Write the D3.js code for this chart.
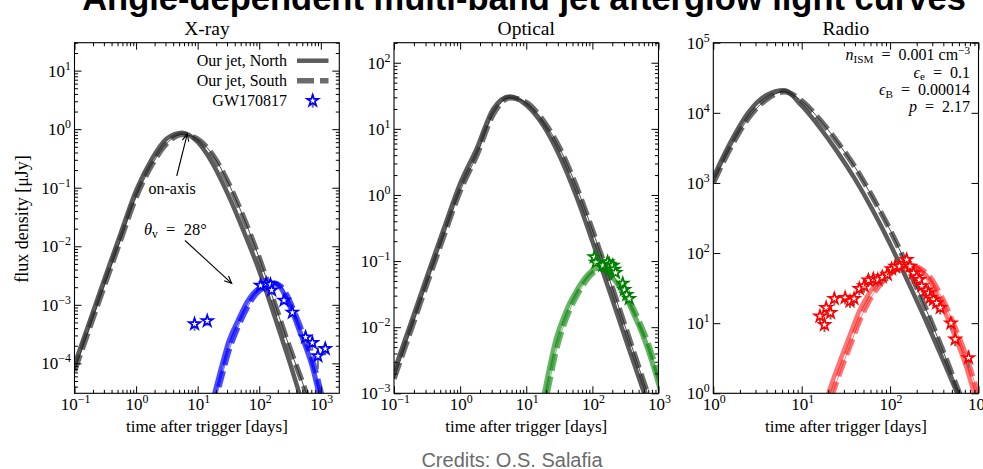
<!DOCTYPE html>
<html><head><meta charset="utf-8">
<script src="https://cdn.jsdelivr.net/npm/d3@7"></script>
<style>body{margin:0;background:#fff}svg{display:block}</style>
</head><body>
<svg id="c" width="983" height="469"></svg>
<script>
// ---------------- DATA ----------------
const bandNames = ["X-ray", "Optical", "Radio"];
const xTickVals = [[0.1, 1, 10, 100, 1000], [0.1, 1, 10, 100, 1000], [1, 10, 100, 1000]];
const yTickVals = [[1e-4, 1e-3, 1e-2, 1e-1, 1, 10], [1e-3, 1e-2, 1e-1, 1, 10, 100], [1, 10, 100, 1000, 1e4, 1e5]];
const legendLabels = ["Our jet, North", "Our jet, South", "GW170817"];

// X-ray (flux density, microJy; time, days)
const tOnX = [0.1, 0.178, 0.316, 0.562, 1, 1.78, 3.16, 5.62, 10, 17.8, 31.6, 56.2, 100, 178, 316, 562, 1000];
const xrayNorth = [9.55e-5, 5.37e-4, 3.02e-3, 1.66e-2, 8.91e-2, 0.302, 0.692, 0.871, 0.603, 0.251, 0.0741, 0.0178, 3.8e-3, 6.31e-4, 1.0e-4, 1.41e-5, 2e-6];
const xraySouth = [7.41e-5, 4.17e-4, 2.34e-3, 1.29e-2, 0.0692, 0.24, 0.575, 0.813, 0.676, 0.355, 0.12, 0.0302, 6.31e-3, 1.05e-3, 1.78e-4, 3.39e-5, 5e-6];
const tOffX = [17.8, 25.1, 31.6, 44.7, 63.1, 79.4, 100, 126, 178, 224, 282, 355, 447, 562, 708, 891, 1122];
const xrayOffNorth = [2.51e-5, 1.0e-4, 2.34e-4, 5.37e-4, 1.12e-3, 1.58e-3, 1.95e-3, 2.24e-3, 2.4e-3, 1.91e-3, 1.17e-3, 6.76e-4, 3.55e-4, 1.91e-4, 9.33e-5, 3.55e-5, 1.26e-5];
const xrayOffSouth = [1.62e-5, 6.46e-5, 1.55e-4, 4.07e-4, 8.71e-4, 1.32e-3, 1.74e-3, 2.04e-3, 2.29e-3, 2.09e-3, 1.45e-3, 8.51e-4, 4.68e-4, 2.45e-4, 1.26e-4, 5.37e-5, 1.95e-5];
const xrayObsT = [8.9, 14.3, 105, 130, 152, 159, 252, 345, 565, 727, 895, 1180];
const xrayObsF = [4.7e-4, 5.3e-4, 2.14e-3, 2.3e-3, 2.23e-3, 1.78e-3, 1.19e-3, 7.4e-4, 2.8e-4, 2.25e-4, 1.34e-4, 1.78e-4];
const xrayObsE = [1.1e-4, 9e-5, 2.5e-4, 3e-4, 3e-4, 3e-4, 1.8e-4, 1.2e-4, 7e-5, 6e-5, 5.5e-5, 4e-5];

// Optical
const tOnO = [0.1, 0.178, 0.316, 0.562, 1, 1.78, 3.16, 5.62, 10, 17.8, 31.6, 56.2, 100, 178, 316, 562, 1000];
const optNorth = [2.14e-3, 1.12e-2, 5.89e-2, 0.302, 1.48, 5.01, 20.0, 30.9, 22.9, 11.5, 3.98, 1.0, 0.2, 0.0372, 6.76e-3, 1.26e-3, 2.4e-4];
const optSouth = [1.66e-3, 8.71e-3, 0.0457, 0.234, 1.15, 3.98, 16.6, 29.5, 25.1, 13.5, 5.25, 1.41, 0.295, 0.0562, 0.01, 1.78e-3, 3.16e-4];
const tOff = [17.8, 22.4, 28.2, 35.5, 44.7, 56.2, 70.8, 89.1, 112, 141, 178, 224, 282, 355, 447, 562, 708, 891, 1122];
const optOffNorth = [7.94e-4, 2.51e-3, 6.76e-3, 1.32e-2, 2.29e-2, 3.47e-2, 5.01e-2, 6.61e-2, 7.76e-2, 7.59e-2, 6.31e-2, 4.9e-2, 3.39e-2, 2.24e-2, 1.35e-2, 7.94e-3, 4.17e-3, 2.0e-3, 8.91e-4];
const optOffSouth = [4.57e-4, 1.45e-3, 4.27e-3, 9.55e-3, 1.74e-2, 2.82e-2, 4.17e-2, 5.75e-2, 7.08e-2, 7.59e-2, 6.76e-2, 5.37e-2, 3.89e-2, 2.63e-2, 1.66e-2, 9.77e-3, 5.5e-3, 2.69e-3, 1.26e-3];
const optObsT = [107, 113, 144, 170, 181, 204, 215, 224, 288, 305, 331, 361];
const optObsF = [0.115, 0.095, 0.086, 0.097, 0.089, 0.086, 0.075, 0.067, 0.046, 0.037, 0.031, 0.027];
const optObsE = [0.012, 0.01, 0.009, 0.01, 0.009, 0.009, 0.008, 0.007, 0.006, 0.005, 0.005, 0.005];

// Radio
const tOnR = [1, 1.58, 2.51, 3.98, 6.31, 10, 15.8, 25.1, 39.8, 63.1, 100, 158, 251, 398, 631, 1000];
const radNorth = [1202, 3890, 10230, 17780, 20900, 12590, 6310, 2820, 1150, 417, 135, 39.8, 11.2, 2.95, 0.76, 0.2];
const radSouth = [1000, 3240, 8510, 15490, 19950, 14790, 8130, 3890, 1700, 631, 214, 63.1, 16.6, 3.98, 0.891, 0.22];
const radOffNorth = [0.631, 1.51, 3.31, 7.08, 14.8, 25.1, 38.0, 51.3, 63.1, 69.2, 66.1, 56.2, 39.8, 22.4, 11.7, 5.75, 2.63, 1.0, 0.355];
const radOffSouth = [0.417, 1.0, 2.29, 4.9, 10.5, 19.5, 30.9, 43.7, 56.2, 64.6, 66.1, 58.9, 45.7, 28.2, 15.5, 7.76, 3.63, 1.51, 0.55];
const radObsT = [16.1, 18.1, 18.9, 21.2, 23.4, 31.0, 35.2, 39.1, 44.9, 50.7, 56.8, 64.6, 72.6, 81.6, 93.0, 104, 114, 128, 145, 154, 168, 184, 200, 214, 228, 255, 272, 284, 310, 336, 369, 488, 545, 771];
const radObsF = [12.6, 9.5, 16.6, 14.1, 22.4, 23.0, 20.5, 22.4, 31.0, 33.9, 41.0, 42.7, 41.7, 45.7, 49.4, 59.2, 64.6, 64.6, 70.4, 80.6, 64.6, 52.0, 45.7, 41.7, 33.9, 29.5, 27.0, 23.0, 21.7, 19.4, 16.6, 10.0, 5.9, 3.2];
const radObsE = [2.5, 2.0, 3.3, 2.8, 4.5, 4.6, 4.1, 4.5, 6.2, 6.8, 8.2, 8.5, 8.3, 9.1, 9.9, 11.8, 12.9, 12.9, 14.1, 16.1, 12.9, 10.4, 9.1, 8.3, 6.8, 5.9, 5.4, 4.6, 4.3, 3.9, 3.3, 2.0, 1.2, 0.9];

// ---------------- LAYOUT ----------------
const SERIF = "'Liberation Serif','Times New Roman',serif";
const SANS = "'Liberation Sans',Arial,Helvetica,sans-serif";
const panels = [
  {x0: 74.5, x1: 339.3, xdom: [0.1, 1995], ydom: [3.08e-5, 30], yMinor: true, color: "#0000ff", op: 0.7,
   on: [tOnX, xrayNorth, xraySouth], off: [tOffX, xrayOffNorth, xrayOffSouth], obs: [xrayObsT, xrayObsF, xrayObsE]},
  {x0: 394, x1: 658.5, xdom: [0.1, 1000], ydom: [1e-3, 201], yMinor: true, color: "#008000", op: 0.6,
   on: [tOnO, optNorth, optSouth], off: [tOff, optOffNorth, optOffSouth], obs: [optObsT, optObsF, optObsE]},
  {x0: 713.3, x1: 978.5, xdom: [1, 1000], ydom: [1, 1e5], yMinor: false, color: "#ff0000", op: 0.55,
   on: [tOnR, radNorth, radSouth], off: [tOff, radOffNorth, radOffSouth], obs: [radObsT, radObsF, radObsE]}
];
const Y0 = 42.7, Y1 = 393.3;
const DASH = "17,6";

const svg = d3.select("#c");
svg.append("rect").attr("width", 983).attr("height", 469).attr("fill", "#fff");

function expText(sel, v, fs) {
  const e = Math.round(Math.log10(v));
  sel.text("10");
  sel.append("tspan").attr("dy", -7).attr("font-size", fs * 0.7).text(String(e).replace("-", "\u2212"));
}

const star = d3.symbol(d3.symbolStar, 40);
const EN = "\u2002";

panels.forEach((p, i) => {
  const x = d3.scaleLog().domain(p.xdom).range([p.x0, p.x1]);
  const y = d3.scaleLog().domain(p.ydom).range([Y1, Y0]);
  const g = svg.append("g");
  const clipId = "clip" + i;
  svg.append("clipPath").attr("id", clipId).append("rect")
    .attr("x", p.x0).attr("y", Y0).attr("width", p.x1 - p.x0).attr("height", Y1 - Y0);

  const line = d3.line().x(d => x(d[0])).y(d => y(d[1])).curve(d3.curveMonotoneX);
  const cg = g.append("g").attr("clip-path", `url(#${clipId})`);

  // on-axis
  const onN = p.on[0].map((t, k) => [t, p.on[1][k]]);
  const onS = p.on[0].map((t, k) => [t, p.on[2][k]]);
  cg.append("path").attr("d", line(onN)).attr("fill", "none").attr("stroke", "#333").attr("stroke-opacity", 0.8).attr("stroke-width", 4.5);
  cg.append("path").attr("d", line(onS)).attr("fill", "none").attr("stroke", "#333").attr("stroke-opacity", 0.72).attr("stroke-width", 5.5).attr("stroke-dasharray", DASH);
  cg.append("path").attr("d", line(onS)).attr("fill", "none").attr("stroke", "#1a1a1a").attr("stroke-opacity", 0.85).attr("stroke-width", 0.9);

  // off-axis
  const offN = p.off[0].map((t, k) => [t, p.off[1][k]]);
  const offS = p.off[0].map((t, k) => [t, p.off[2][k]]);
  cg.append("path").attr("d", line(offN)).attr("fill", "none").attr("stroke", p.color).attr("stroke-opacity", p.op).attr("stroke-width", 4.5);
  cg.append("path").attr("d", line(offS)).attr("fill", "none").attr("stroke", p.color).attr("stroke-opacity", p.op).attr("stroke-width", 5.5).attr("stroke-dasharray", DASH);
  cg.append("path").attr("d", line(offS)).attr("fill", "none").attr("stroke", p.color).attr("stroke-opacity", p.op).attr("stroke-width", 0.9);

  // observations
  const og = g.append("g").attr("clip-path", `url(#${clipId})`);
  p.obs[0].forEach((t, k) => {
    const f = p.obs[1][k], e = p.obs[2][k];
    og.append("line").attr("x1", x(t)).attr("x2", x(t)).attr("y1", y(Math.max(f - e, p.ydom[0] * 0.5))).attr("y2", y(f + e))
      .attr("stroke", "#6e6e6e").attr("stroke-width", 2);
  });
  p.obs[0].forEach((t, k) => {
    og.append("path").attr("d", star()).attr("transform", `translate(${x(t)},${y(p.obs[1][k])})`)
      .attr("fill", "#fff").attr("stroke", p.color).attr("stroke-width", 1.7);
  });

  // axes (inward ticks on all four sides)
  const xMaj = xTickVals[i];
  const yMaj = yTickVals[i];
  const isMinor = v => Math.abs(Math.log10(v) - Math.round(Math.log10(v))) > 1e-6;
  const xMin = x.ticks().filter(isMinor);
  const yMin = p.yMinor ? y.ticks().filter(isMinor) : [];
  const clean = s => { s.select(".domain").remove(); s.selectAll("line").attr("stroke", "#000").attr("stroke-width", 1); s.selectAll("text").remove(); };
  g.append("g").attr("transform", `translate(0,${Y1})`).call(d3.axisBottom(x).tickValues(xMaj).tickSize(-7).tickFormat("")).call(clean);
  g.append("g").attr("transform", `translate(0,${Y1})`).call(d3.axisBottom(x).tickValues(xMin).tickSize(-3.5).tickFormat("")).call(clean);
  g.append("g").attr("transform", `translate(0,${Y0})`).call(d3.axisTop(x).tickValues(xMaj).tickSize(-7).tickFormat("")).call(clean);
  g.append("g").attr("transform", `translate(0,${Y0})`).call(d3.axisTop(x).tickValues(xMin).tickSize(-3.5).tickFormat("")).call(clean);
  g.append("g").attr("transform", `translate(${p.x0},0)`).call(d3.axisLeft(y).tickValues(yMaj).tickSize(-7).tickFormat("")).call(clean);
  g.append("g").attr("transform", `translate(${p.x0},0)`).call(d3.axisLeft(y).tickValues(yMin).tickSize(-3.5).tickFormat("")).call(clean);
  g.append("g").attr("transform", `translate(${p.x1},0)`).call(d3.axisRight(y).tickValues(yMaj).tickSize(-7).tickFormat("")).call(clean);
  g.append("g").attr("transform", `translate(${p.x1},0)`).call(d3.axisRight(y).tickValues(yMin).tickSize(-3.5).tickFormat("")).call(clean);

  g.append("rect").attr("x", p.x0).attr("y", Y0).attr("width", p.x1 - p.x0).attr("height", Y1 - Y0)
    .attr("fill", "none").attr("stroke", "#000").attr("stroke-width", 1.1);

  // tick labels
  const FS = 17;
  xMaj.forEach(v => {
    g.append("text").attr("x", x(v) + 1).attr("y", Y1 + 17).attr("text-anchor", "middle")
      .attr("font-family", SERIF).attr("font-size", FS).call(s => expText(s, v, FS));
  });
  yMaj.forEach(v => {
    g.append("text").attr("x", p.x0 - 3.5).attr("y", y(v) + 6).attr("text-anchor", "end")
      .attr("font-family", SERIF).attr("font-size", FS).call(s => expText(s, v, FS));
  });

  // panel title and x label
  const cx = (p.x0 + p.x1) / 2;
  g.append("text").attr("x", cx).attr("y", 34.5).attr("text-anchor", "middle")
    .attr("font-family", SERIF).attr("font-size", 19.5).text(bandNames[i]);
  g.append("text").attr("x", cx).attr("y", 432).attr("text-anchor", "middle")
    .attr("font-family", SERIF).attr("font-size", 17).text("time after trigger [days]");

  if (i === 0) {
    g.append("text").attr("transform", `translate(27.5,${(Y0 + Y1) / 2 + 1}) rotate(-90)`).attr("text-anchor", "middle")
      .attr("font-family", SERIF).attr("font-size", 18).text("flux density [\u03BCJy]");
    // legend
    const lx = 287, rows = [60.7, 80.7, 100.7];
    legendLabels.forEach((lab, k) => {
      g.append("text").attr("x", lx).attr("y", rows[k] + 5.5).attr("text-anchor", "end")
        .attr("font-family", SERIF).attr("font-size", 16).text(lab);
    });
    g.append("line").attr("x1", 297).attr("x2", 328.5).attr("y1", rows[0]).attr("y2", rows[0])
      .attr("stroke", "#333").attr("stroke-opacity", 0.8).attr("stroke-width", 4.5);
    g.append("line").attr("x1", 297).attr("x2", 328.5).attr("y1", rows[1]).attr("y2", rows[1])
      .attr("stroke", "#333").attr("stroke-opacity", 0.72).attr("stroke-width", 5.5).attr("stroke-dasharray", DASH);
    g.append("line").attr("x1", 312.7).attr("x2", 312.7).attr("y1", rows[2] - 6).attr("y2", rows[2] + 7)
      .attr("stroke", "#6e6e6e").attr("stroke-width", 2);
    g.append("path").attr("d", star()).attr("transform", `translate(312.7,${rows[2]})`)
      .attr("fill", "#fff").attr("stroke", p.color).attr("stroke-width", 1.7);

    // annotations
    const arrow = (xa, ya, xb, yb) => {
      g.append("line").attr("x1", xa).attr("y1", ya).attr("x2", xb).attr("y2", yb).attr("stroke", "#000").attr("stroke-width", 1.1);
      const ang = Math.atan2(yb - ya, xb - xa), L = 8, w = 0.42;
      const p1 = [xb - L * Math.cos(ang - w), yb - L * Math.sin(ang - w)];
      const p2 = [xb - L * Math.cos(ang + w), yb - L * Math.sin(ang + w)];
      g.append("path").attr("d", `M${p1[0]},${p1[1]}L${xb},${yb}L${p2[0]},${p2[1]}`)
        .attr("fill", "none").attr("stroke", "#000").attr("stroke-width", 1.1);
    };
    g.append("text").attr("x", 148.5).attr("y", 193.5).attr("font-family", SERIF).attr("font-size", 16).text("on-axis");
    arrow(176.7, 176, 187.3, 133.8);
    const th = g.append("text").attr("x", 144).attr("y", 235).attr("font-family", SERIF).attr("font-size", 16.5);
    th.append("tspan").attr("font-style", "italic").text("\u03B8");
    th.append("tspan").attr("font-size", 11.5).attr("dy", 3).text("v");
    th.append("tspan").attr("dy", -3).text(EN + "=" + EN + "28\u00B0");
    arrow(185, 240.5, 231.7, 283.3);
  }

  if (i === 2) {
    const rx = 970, FA = 16, FSUB = 11.2;
    const mk = (yy) => g.append("text").attr("x", rx).attr("y", yy).attr("text-anchor", "end").attr("font-family", SERIF).attr("font-size", FA);
    const l1 = mk(60);
    l1.append("tspan").attr("font-style", "italic").text("n");
    l1.append("tspan").attr("font-size", FSUB).attr("dy", 2.5).text("ISM");
    l1.append("tspan").attr("dy", -2.5).text(EN + "=" + EN + "0.001 cm");
    l1.append("tspan").attr("font-size", FSUB).attr("dy", -6.5).text("\u22123");
    const l2 = mk(77.5);
    l2.append("tspan").attr("font-style", "italic").text("\u03F5");
    l2.append("tspan").attr("font-size", FSUB).attr("dy", 2.5).text("e");
    l2.append("tspan").attr("dy", -2.5).text(EN + "=" + EN + "0.1");
    const l3 = mk(95);
    l3.append("tspan").attr("font-style", "italic").text("\u03F5");
    l3.append("tspan").attr("font-size", FSUB).attr("dy", 2.5).text("B");
    l3.append("tspan").attr("dy", -2.5).text(EN + "=" + EN + "0.00014");
    const l4 = mk(111.5);
    l4.append("tspan").attr("font-style", "italic").text("p");
    l4.append("tspan").text(EN + "=" + EN + "2.17");
  }
});

// title and credits
svg.append("text").attr("x", 524).attr("y", 10).attr("text-anchor", "middle")
  .attr("font-family", SANS).attr("font-weight", "bold").attr("font-size", 34.5).attr("fill", "#000")
  .text("Angle-dependent multi-band jet afterglow light curves");
svg.append("text").attr("x", 512).attr("y", 467).attr("text-anchor", "middle")
  .attr("font-family", SANS).attr("font-size", 20).attr("fill", "#6b6b6b")
  .text("Credits: O.S. Salafia");
</script>
</body></html>
